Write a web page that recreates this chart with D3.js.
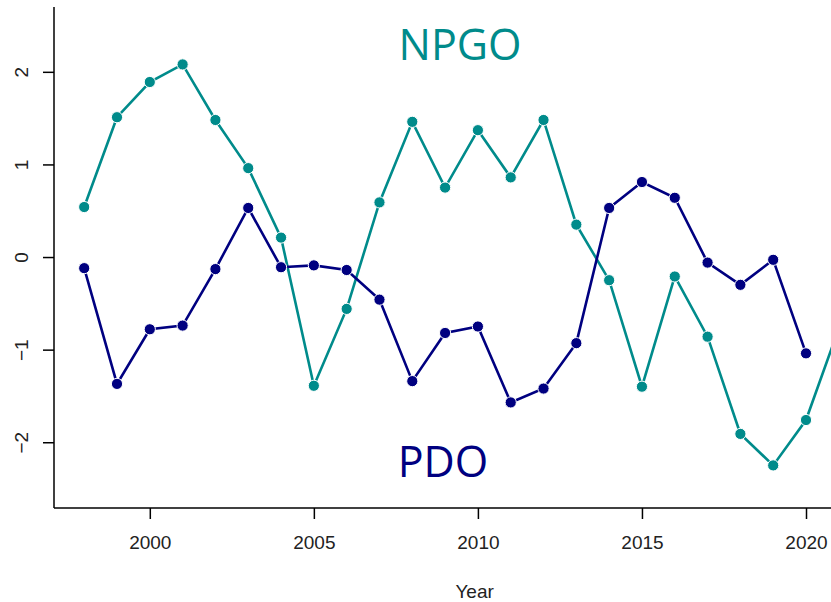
<!DOCTYPE html>
<html>
<head>
<meta charset="utf-8">
<script src="https://cdn.jsdelivr.net/npm/d3@7"></script>
<style>
  body { margin: 0; background: #fff; }
  svg { display: block; }
  .tick text { font-family: "Liberation Sans", Arial, sans-serif; }
</style>
</head>
<body>
<svg id="chart"></svg>
<script>
var width = 831,
    height = 602;

// values
var npgoYears = [1998, 1999, 2000, 2001, 2002, 2003, 2004, 2005, 2006, 2007, 2008, 2009,
                 2010, 2011, 2012, 2013, 2014, 2015, 2016, 2017, 2018, 2019, 2020, 2021];
var npgoValues = [0.54, 1.51, 1.89, 2.08, 1.48, 0.96, 0.21, -1.39, -0.56, 0.59, 1.46, 0.75,
                  1.37, 0.86, 1.48, 0.35, -0.25, -1.40, -0.21, -0.86, -1.91, -2.25, -1.76, -0.77];
var pdoYears = [1998, 1999, 2000, 2001, 2002, 2003, 2004, 2005, 2006, 2007, 2008, 2009,
                2010, 2011, 2012, 2013, 2014, 2015, 2016, 2017, 2018, 2019, 2020];
var pdoValues = [-0.12, -1.37, -0.78, -0.74, -0.13, 0.53, -0.11, -0.09, -0.14, -0.46, -1.34, -0.82,
                 -0.75, -1.57, -1.42, -0.93, 0.53, 0.81, 0.64, -0.06, -0.30, -0.03, -1.04];
var xTicks = [2000, 2005, 2010, 2015, 2020];
var yTicks = [-2, -1, 0, 1, 2];

var npgoColor = "#008b8b",
    pdoColor = "#000080";

var plotLeft = 54, plotRight = 869, plotTop = 7, plotBottom = 508;

var x = d3.scaleLinear()
    .domain([1997.08, 2021.92])
    .range([plotLeft, plotRight]);

var y = d3.scaleLinear()
    .domain([-2.71, 2.70])
    .range([plotBottom, plotTop]);

var svg = d3.select("#chart")
    .attr("width", width)
    .attr("height", height);

// axes
var xAxis = svg.append("g")
    .attr("transform", "translate(0," + plotBottom + ")")
    .call(d3.axisBottom(x).tickValues(xTicks).tickFormat(d3.format("d")).tickSizeOuter(0).tickSize(11).tickPadding(17));
xAxis.select(".domain").attr("d", "M" + plotLeft + ",0H" + plotRight);

var yAxis = svg.append("g")
    .attr("transform", "translate(" + plotLeft + ",0)")
    .call(d3.axisLeft(y).tickValues(yTicks).tickFormat(function (d) { return d < 0 ? "\u2212" + Math.abs(d) : d; }).tickSizeOuter(0).tickSize(11));
yAxis.select(".domain").attr("d", "M0," + plotTop + "V" + plotBottom);

svg.selectAll(".domain, .tick line")
    .attr("stroke", "#000")
    .attr("stroke-width", 1.5);

xAxis.selectAll(".tick text")
    .attr("font-size", 19)
    .attr("fill", "#222");

yAxis.selectAll(".tick text")
    .attr("font-size", 19)
    .attr("fill", "#222")
    .attr("text-anchor", "middle")
    .attr("dy", 0)
    .attr("x", 0)
    .attr("transform", "translate(-33,0) rotate(-90)")
    .attr("dominant-baseline", "central");

svg.append("text")
    .attr("x", x(2009.9))
    .attr("y", 598)
    .attr("text-anchor", "middle")
    .attr("font-family", "Liberation Sans, Arial, sans-serif")
    .attr("font-size", 19)
    .attr("fill", "#222")
    .text("Year");

// series
function drawSeries(years, values, color) {
    var pts = years.map(function (d, i) { return [d, values[i]]; });
    var line = d3.line()
        .x(function (d) { return x(d[0]); })
        .y(function (d) { return y(d[1]); });
    svg.append("path")
        .datum(pts)
        .attr("d", line)
        .attr("fill", "none")
        .attr("stroke", color)
        .attr("stroke-width", 2.6);
    svg.append("g").selectAll("circle")
        .data(pts)
        .enter().append("circle")
        .attr("cx", function (d) { return x(d[0]); })
        .attr("cy", function (d) { return y(d[1]); })
        .attr("r", 5.6)
        .attr("fill", color)
        .attr("stroke", "#fff")
        .attr("stroke-width", 1);
}

drawSeries(npgoYears, npgoValues, npgoColor);
drawSeries(pdoYears, pdoValues, pdoColor);

// labels
svg.append("text")
    .attr("x", 460)
    .attr("y", 60)
    .attr("text-anchor", "middle")
    .attr("font-family", "Open Sans, Noto Sans, sans-serif")
    .attr("font-size", 43)
    .attr("fill", npgoColor)
    .text("NPGO");

svg.append("text")
    .attr("x", 443)
    .attr("y", 477)
    .attr("text-anchor", "middle")
    .attr("font-family", "Open Sans, Noto Sans, sans-serif")
    .attr("font-size", 43)
    .attr("fill", pdoColor)
    .text("PDO");
</script>
</body>
</html>
